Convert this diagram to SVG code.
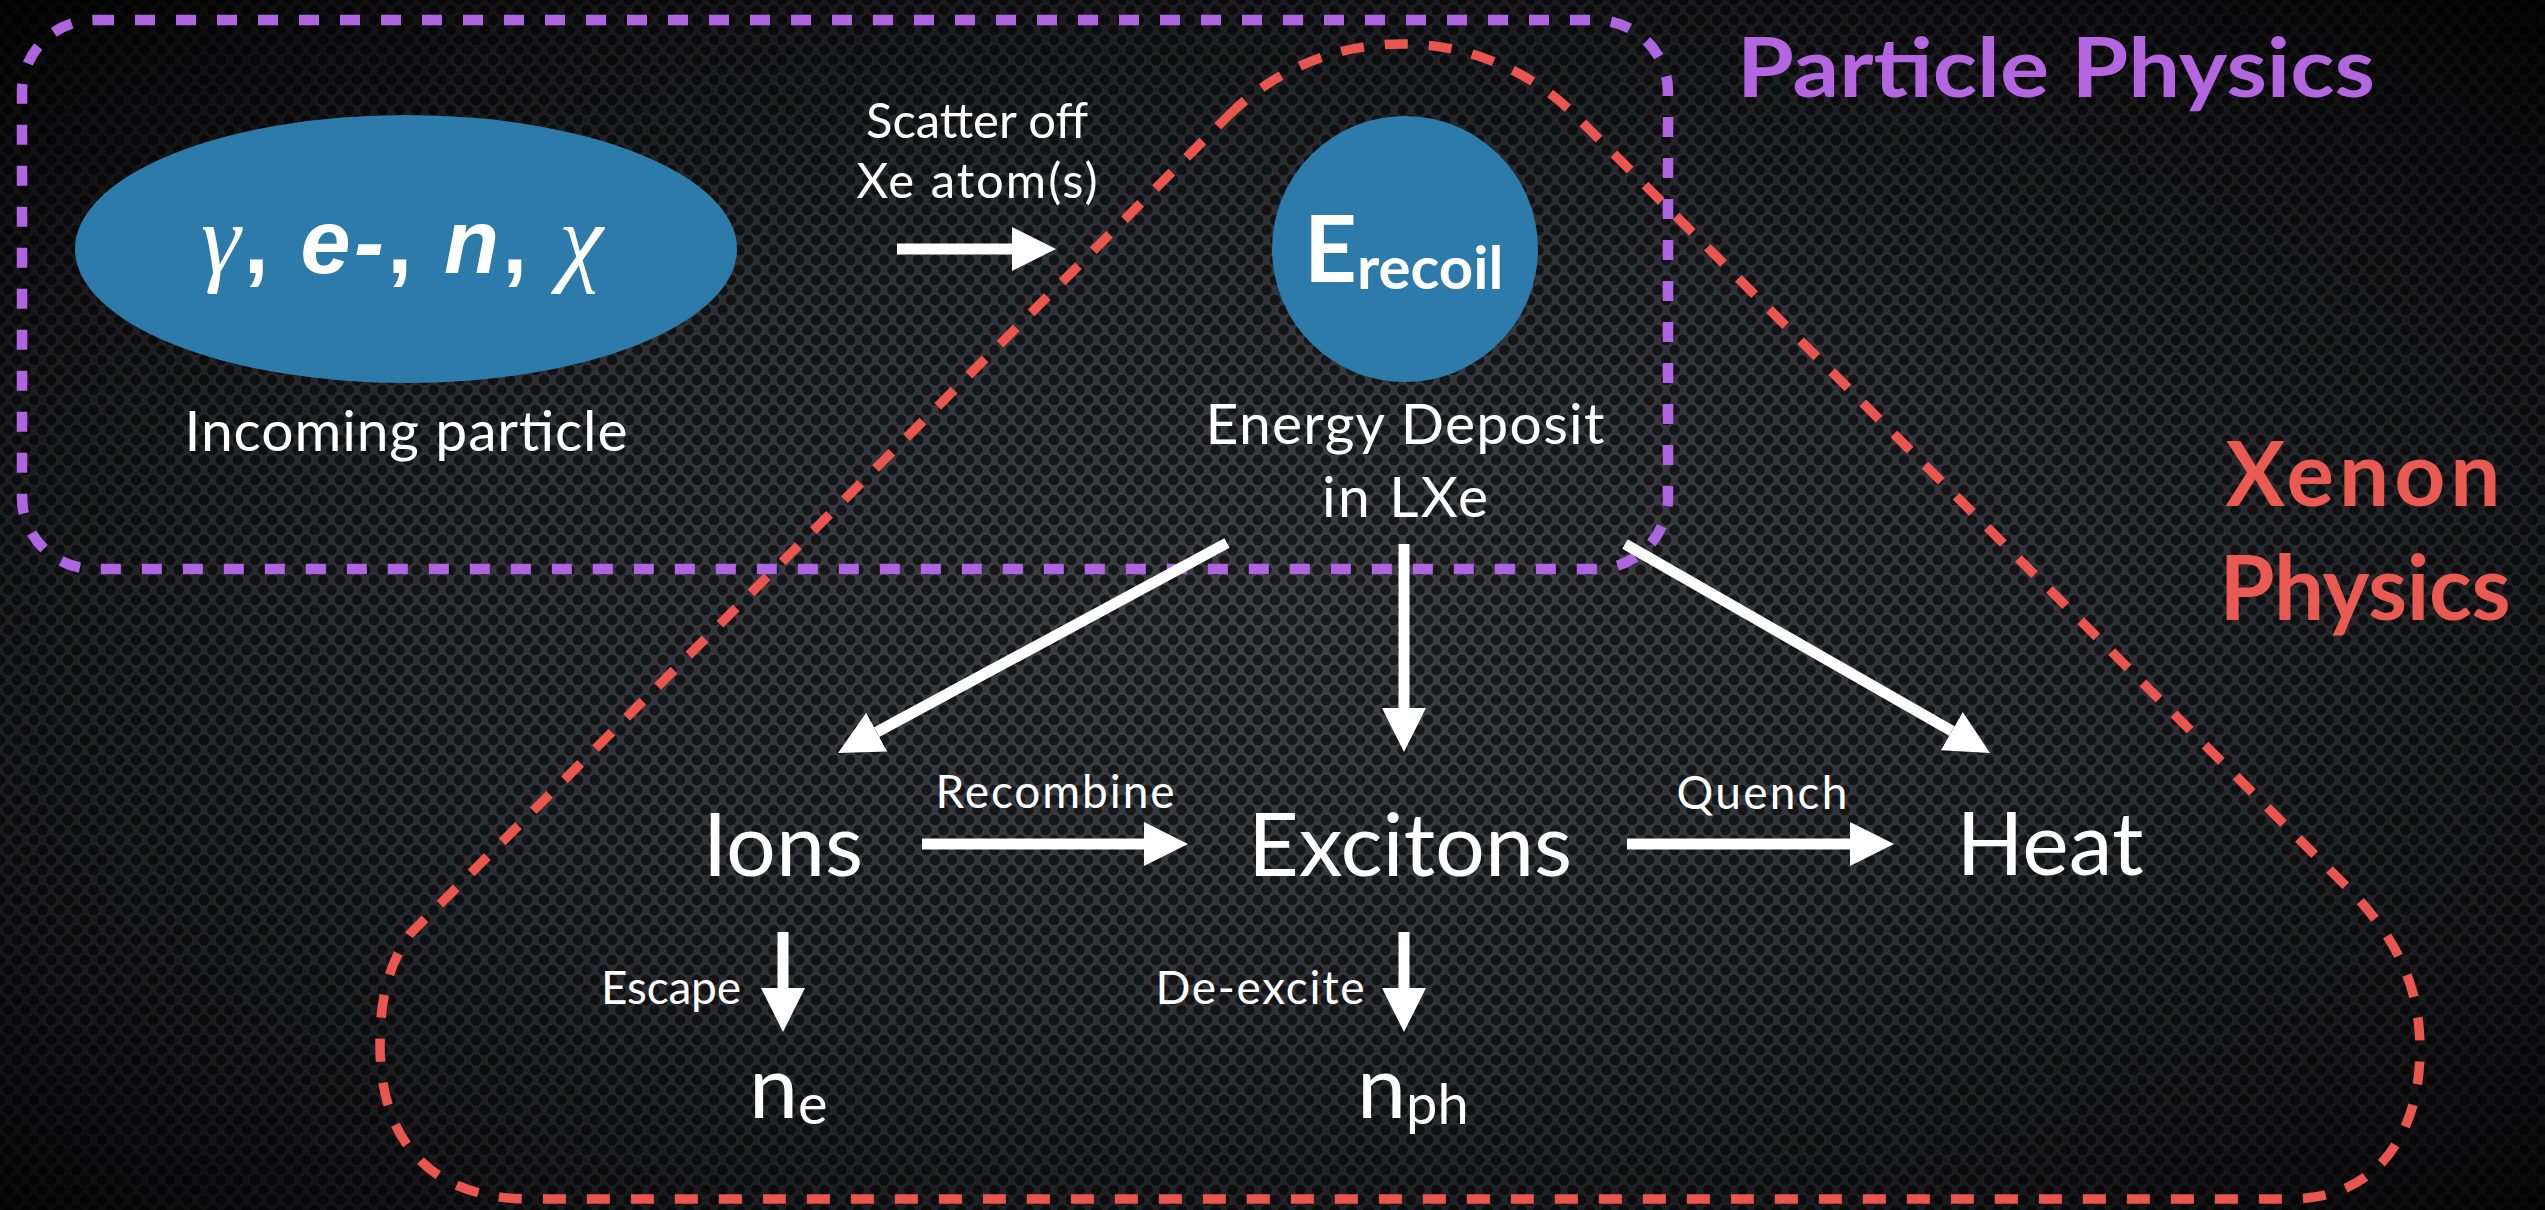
<svg xmlns="http://www.w3.org/2000/svg" width="2545" height="1210" viewBox="0 0 2545 1210">
<defs>
  <radialGradient id="bg" cx="0.5" cy="0.52" r="0.72">
    <stop offset="0" stop-color="#3e4146"/>
    <stop offset="0.45" stop-color="#303237"/>
    <stop offset="0.8" stop-color="#17171a"/>
    <stop offset="1" stop-color="#060606"/>
  </radialGradient>
  <pattern id="holes" width="17" height="20" patternUnits="userSpaceOnUse">
    <g fill="#000" fill-opacity="0.62">
      <circle cx="0" cy="0" r="5.3"/><circle cx="17" cy="0" r="5.3"/>
      <circle cx="0" cy="20" r="5.3"/><circle cx="17" cy="20" r="5.3"/>
      <circle cx="8.5" cy="10" r="5.3"/>
    </g>
  </pattern>
  <marker id="ah" viewBox="0 0 4 4" refX="0" refY="2" markerWidth="4" markerHeight="4" orient="auto" markerUnits="strokeWidth">
    <path d="M0,0 L4,2 L0,4 z" fill="#ffffff"/>
  </marker>
</defs>
<style>
  .t { font-family: Lato, "Liberation Sans", sans-serif; fill: #ffffff; }
  .big { font-size: 88px; }
  .mid { font-size: 49px; }
  .small { font-size: 46px; }
  .blob { fill: #2c7bab; }
  .arr { stroke: #ffffff; stroke-width: 11; fill: none; marker-end: url(#ah); }
  .pp { fill: none; stroke: #b065e0; stroke-width: 10.5; stroke-dasharray: 20 21; }
  .xp { fill: none; stroke: #e8564f; stroke-width: 9.5; stroke-dasharray: 23 21; }
  .lblP { font-family: Lato, "Liberation Sans", sans-serif; font-weight: bold; fill: #b366e0; }
  .lblX { font-family: Lato, "Liberation Sans", sans-serif; font-weight: bold; fill: #e85a52; }
</style>

<rect x="0" y="0" width="2545" height="1210" fill="url(#bg)"/>
<rect x="0" y="0" width="2545" height="1210" fill="url(#holes)"/>

<g id="region-particle">
  <rect class="pp" x="22" y="20" width="1646" height="549" rx="72" ry="72"/>
  <text class="lblP" x="1737" y="97" font-size="82" textLength="638" lengthAdjust="spacingAndGlyphs">Particle Physics</text>
</g>

<g id="region-xenon">
  <path class="xp" d="M 1228,116 A 246 246 0 0 1 1576,116 L 2350,890 C 2400,942 2420,990 2420,1050 C 2420,1130 2380,1199 2290,1199 L 530,1199 C 430,1199 380,1140 380,1045 C 380,1000 388,965 410,934 Z"/>
  <text class="lblX" x="2363" y="506" font-size="89" text-anchor="middle" textLength="275">Xenon</text>
  <text class="lblX" x="2365" y="620" font-size="89" text-anchor="middle" textLength="291">Physics</text>
</g>

<g id="connectors">
  <line class="arr" x1="897" y1="249" x2="1012" y2="249"/>
  <line class="arr" x1="1227" y1="543" x2="876.7" y2="732.1"/>
  <line class="arr" x1="1404" y1="544" x2="1404" y2="708"/>
  <line class="arr" x1="1625" y1="544" x2="1951.8" y2="731.1"/>
  <line class="arr" x1="922" y1="844" x2="1144" y2="844"/>
  <line class="arr" x1="1627" y1="844" x2="1850" y2="844"/>
  <line class="arr" x1="783" y1="932" x2="783" y2="988"/>
  <line class="arr" x1="1404" y1="932" x2="1404" y2="988"/>
  <text class="t mid" x="977" y="138" text-anchor="middle" textLength="222">Scatter off</text>
  <text class="t mid" x="977" y="198" text-anchor="middle" textLength="241">Xe atom(s)</text>
  <text class="t small" x="1055" y="808" text-anchor="middle" textLength="239">Recombine</text>
  <text class="t small" x="1762" y="809" text-anchor="middle" textLength="171">Quench</text>
  <text class="t small" x="671" y="1004" text-anchor="middle" textLength="140">Escape</text>
  <text class="t small" x="1260" y="1004" text-anchor="middle" textLength="209">De-excite</text>
</g>

<g id="node-incoming">
  <ellipse class="blob" cx="406" cy="249" rx="331" ry="134"/>
  <text x="201" y="273" font-size="90" fill="#ffffff" font-family="'Liberation Sans', Arial, sans-serif" font-weight="bold" textLength="402"><tspan font-family="'Liberation Serif', serif" font-style="italic" font-weight="normal" font-size="100">γ</tspan>, <tspan font-style="italic">e-</tspan>, <tspan font-style="italic">n</tspan>, <tspan font-family="'Liberation Serif', serif" font-style="italic" font-weight="normal" font-size="100">χ</tspan></text>
  <text class="t" x="406" y="451" font-size="57" text-anchor="middle" textLength="443">Incoming particle</text>
</g>

<g id="node-erecoil">
  <circle class="blob" cx="1405" cy="249" r="133"/>
  <text class="t" x="1304" y="282" font-size="92" font-weight="bold">E<tspan font-size="60" dy="7">recoil</tspan></text>
  <text class="t" x="1405" y="444" font-size="57" text-anchor="middle" textLength="399">Energy Deposit</text>
  <text class="t" x="1405" y="517" font-size="57" text-anchor="middle" textLength="166">in LXe</text>
</g>

<g id="node-ions">
  <text class="t big" x="783" y="876" text-anchor="middle">Ions</text>
</g>

<g id="node-excitons">
  <text class="t big" x="1410" y="876" text-anchor="middle">Excitons</text>
</g>

<g id="node-heat">
  <text class="t big" x="2050" y="875" text-anchor="middle">Heat</text>
</g>

<g id="node-ne">
  <text class="t big" x="749" y="1118">n<tspan font-size="56" dy="6">e</tspan></text>
</g>

<g id="node-nph">
  <text class="t big" x="1357" y="1118">n<tspan font-size="56" dy="6">ph</tspan></text>
</g>
</svg>
